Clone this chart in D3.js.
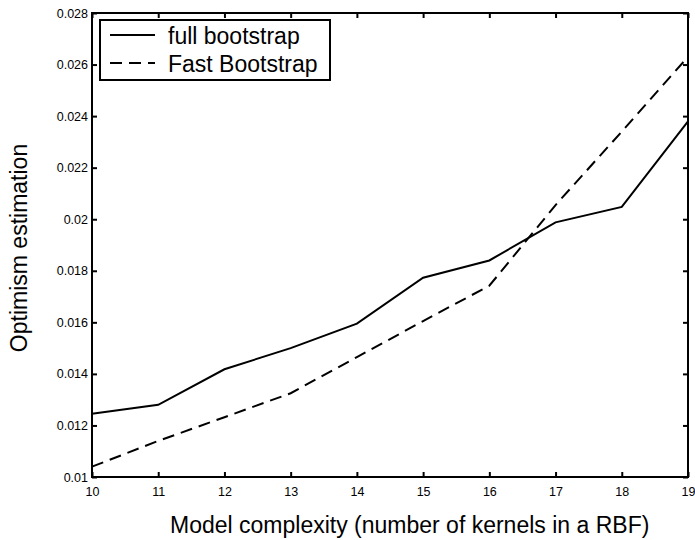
<!DOCTYPE html>
<html>
<head>
<meta charset="utf-8">
<script src="https://cdn.jsdelivr.net/npm/d3@7"></script>
<style>
  html, body { margin: 0; padding: 0; background: #fff; }
  svg { display: block; font-family: Arial, "Liberation Sans", sans-serif; }
</style>
</head>
<body>
<svg id="chart" width="695" height="540"></svg>
<script>
// Number of kernels in the RBF model
const kernels = [10, 11, 12, 13, 14, 15, 16, 17, 18, 19];
// Optimism estimates
const fullBootstrap = [0.01245, 0.0128, 0.01418, 0.0150, 0.01595, 0.01773, 0.01840, 0.01988, 0.02048, 0.02380];
const fastBootstrap = [0.01040, 0.01140, 0.01232, 0.01325, 0.01465, 0.01605, 0.01742, 0.02055, 0.02340, 0.02630];
const yTicks = [0.01, 0.012, 0.014, 0.016, 0.018, 0.02, 0.022, 0.024, 0.026, 0.028];
const xTicks = kernels;
const seriesNames = ["full bootstrap", "Fast Bootstrap"];

const svg = d3.select("#chart");
const margin = { left: 92, top: 13, right: 7, bottom: 63 };
const W = 695, H = 540;
const x = d3.scaleLinear().domain([10, 19]).range([margin.left, W - margin.right]);
const y = d3.scaleLinear().domain([0.01, 0.028]).range([H - margin.bottom, margin.top]);

const fmt = v => String(+v.toFixed(4));
const tickLen = 5;

// Inward ticks on all four sides
svg.append("g").attr("transform", `translate(0,${y(0.01)})`)
  .call(d3.axisBottom(x).tickValues(xTicks).tickSize(-tickLen).tickPadding(10).tickFormat(d3.format("d")));
svg.append("g").attr("transform", `translate(0,${y(0.028)})`)
  .call(d3.axisTop(x).tickValues(xTicks).tickSize(-tickLen).tickFormat(""));
svg.append("g").attr("transform", `translate(${x(10)},0)`)
  .call(d3.axisLeft(y).tickValues(yTicks).tickSize(-tickLen).tickPadding(4).tickFormat(fmt));
svg.append("g").attr("transform", `translate(${x(19)},0)`)
  .call(d3.axisRight(y).tickValues(yTicks).tickSize(-tickLen).tickFormat(""));

svg.selectAll(".domain").remove();
svg.selectAll(".tick line").attr("stroke", "#000").attr("stroke-width", 2);
svg.selectAll(".tick text").attr("fill", "#000").style("font-size", "12.5px");

// Plot frame
svg.append("rect")
  .attr("x", x(10)).attr("y", y(0.028))
  .attr("width", x(19) - x(10)).attr("height", y(0.01) - y(0.028))
  .attr("fill", "none").attr("stroke", "#000").attr("stroke-width", 2);

const line = d3.line().x((d, i) => x(kernels[i])).y(d => y(d));

svg.append("path").datum(fullBootstrap)
  .attr("d", line).attr("fill", "none").attr("stroke", "#000").attr("stroke-width", 2);
svg.append("path").datum(fastBootstrap)
  .attr("d", line).attr("fill", "none").attr("stroke", "#000").attr("stroke-width", 2)
  .attr("stroke-dasharray", "12,7");

// Legend
const lg = svg.append("g");
lg.append("rect").attr("x", 100).attr("y", 20).attr("width", 230).attr("height", 60)
  .attr("fill", "#fff").attr("stroke", "#000").attr("stroke-width", 2);
const dashes = [null, "12,7"];
seriesNames.forEach((name, i) => {
  const yy = 35 + i * 28;
  lg.append("line").attr("x1", 110).attr("x2", 155).attr("y1", yy).attr("y2", yy)
    .attr("stroke", "#000").attr("stroke-width", 2).attr("stroke-dasharray", dashes[i]);
  lg.append("text").attr("x", 168).attr("y", yy + 9)
    .style("font-size", "23px").attr("fill", "#000").text(name);
});

// Axis titles
svg.append("text").attr("x", 170).attr("y", 533)
  .style("font-size", "23px").attr("fill", "#000")
  .text("Model complexity (number of kernels in a RBF)");
svg.append("text").attr("transform", `translate(27,${(y(0.01) + y(0.028)) / 2 + 3}) rotate(-90)`)
  .attr("text-anchor", "middle").style("font-size", "23px").attr("fill", "#000")
  .text("Optimism estimation");
</script>
</body>
</html>
